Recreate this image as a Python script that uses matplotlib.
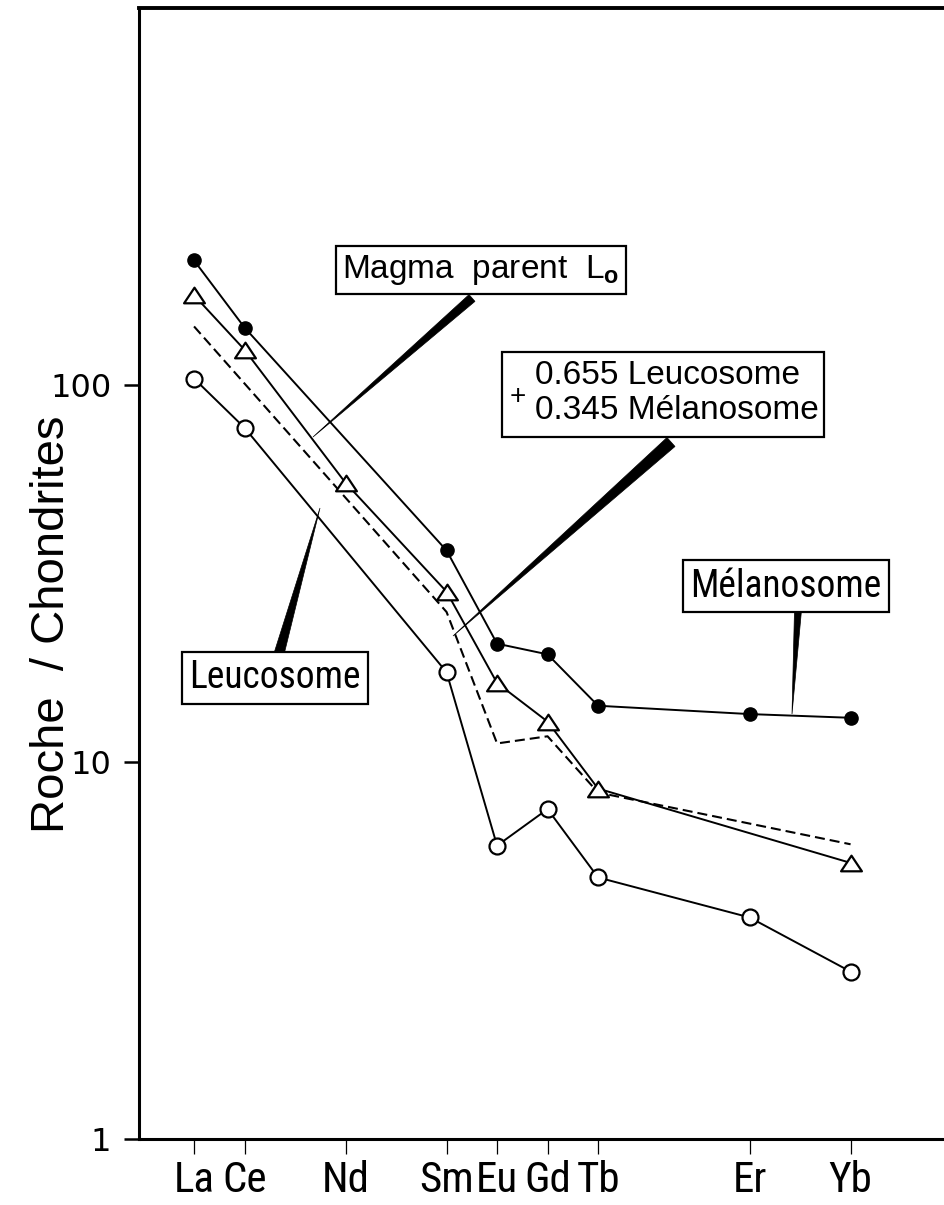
import matplotlib
matplotlib.use("Agg")
import matplotlib.pyplot as plt
from matplotlib import font_manager
from matplotlib.font_manager import FontProperties
from matplotlib.patches import Polygon, Rectangle
from matplotlib.path import Path
import numpy as np

# Terres rares normalisées aux chondrites
elements = ["La", "Ce", "Nd", "Sm", "Eu", "Gd", "Tb", "Er", "Yb"]
numero_atomique = {"La": 57, "Ce": 58, "Nd": 60, "Sm": 62, "Eu": 63,
                   "Gd": 64, "Tb": 65, "Er": 68, "Yb": 70}

melano_el = ["La", "Ce", "Sm", "Eu", "Gd", "Tb", "Er", "Yb"]
melanosome = [214, 142, 36.4, 20.6, 19.3, 14.1, 13.4, 13.1]

magma_el = ["La", "Ce", "Nd", "Sm", "Eu", "Gd", "Tb", "Yb"]
magma_parent = [173, 124, 55, 28.3, 16.2, 12.8, 8.5, 5.4]

leuco_el = ["La", "Ce", "Sm", "Eu", "Gd", "Tb", "Er", "Yb"]
leucosome = [104, 77, 17.3, 6.0, 7.5, 4.94, 3.87, 2.78]

melange_el = ["La", "Sm", "Eu", "Gd", "Tb", "Yb"]
melange = [143, 25, 11.2, 11.7, 8.3, 6.05]

NORMAL = ["Liberation Sans", "DejaVu Sans"]
plt.rcParams["font.family"] = NORMAL
plt.rcParams["mathtext.fontset"] = "custom"
plt.rcParams["mathtext.rm"] = "Liberation Sans"
plt.rcParams["mathtext.bf"] = "Liberation Sans:bold"


# police étroite : on prend ce qui est installé
def police_etroite():
    prefs = ["Liberation Sans Narrow", "Roboto Condensed", "DejaVu Sans",
             "Open Sans", "Noto Sans", "Roboto", "Lato", "Inter"]
    rang_stretch = {"condensed": 0, "semi-condensed": 1, "extra-condensed": 2,
                    "ultra-condensed": 3}
    choix = None
    for f in font_manager.fontManager.ttflist:
        nom = f.name + " " + f.fname
        etroit = f.stretch in rang_stretch or "Narrow" in nom or "Condensed" in nom
        if not etroit or f.style != "normal" or "Mono" in nom:
            continue
        w = f.weight if isinstance(f.weight, int) else font_manager.weight_dict.get(f.weight, 400)
        if w != 400:
            continue
        p = prefs.index(f.name) if f.name in prefs else len(prefs)
        cle = (rang_stretch.get(f.stretch, 1), p)
        if choix is None or cle < choix[0]:
            choix = (cle, f.fname)
    return choix[1] if choix else None


fichier = police_etroite()


def fp(size):
    if fichier:
        return FontProperties(fname=fichier, size=size)
    return FontProperties(family="Liberation Sans", size=size * 0.85)


W, H = 944, 1205
fig = plt.figure(figsize=(W / 100, H / 100), dpi=100)
ax = fig.add_axes([139 / W, 66 / H, (W - 139) / W, (1139 - 8) / H])


def xs(els):
    return [numero_atomique[e] for e in els]


lw = 1.4
ax.plot(xs(melano_el), melanosome, "-", color="k", lw=lw, marker="o",
        ms=9.5, mfc="k", mec="k", zorder=3)
tri = Path([(-1, -0.75), (1, -0.75), (0, 0.75), (-1, -0.75)],
           [Path.MOVETO, Path.LINETO, Path.LINETO, Path.CLOSEPOLY])
ax.plot(xs(magma_el), magma_parent, "-", color="k", lw=lw, marker=tri,
        ms=15, mfc="white", mec="k", mew=1.6, zorder=4)
ax.plot(xs(leuco_el), leucosome, "-", color="k", lw=lw, marker="o",
        ms=11.5, mfc="white", mec="k", mew=1.6, zorder=4)
ax.plot(xs(melange_el), melange, color="k", lw=1.5,
        linestyle=(0, (4.8, 2.4)), zorder=2)

ax.set_yscale("log")
ax.set_ylim(1, 1000)
ax.set_xlim(55.91, 71.85)

ax.set_yticks([1, 10, 100])
ax.set_yticklabels(["1", "10", "100"])
ax.yaxis.set_minor_locator(matplotlib.ticker.NullLocator())
ax.set_xticks(xs(elements))
ax.set_xticklabels(elements)
for t in ax.get_xticklabels():
    t.set_fontproperties(fp(31))
for t in ax.get_yticklabels():
    t.set_fontfamily("DejaVu Sans")
    t.set_fontsize(23)
ax.tick_params(axis="x", direction="out", length=11, width=0.9, pad=4)
ax.tick_params(axis="y", direction="out", length=11, width=1.8, pad=9)

ax.spines["right"].set_visible(False)
for s in ["left", "bottom"]:
    ax.spines[s].set_linewidth(2.2)
ax.spines["top"].set_linewidth(2.8)

ax.set_ylabel("Roche  / Chondrites", fontsize=34)
ax.yaxis.set_label_coords(-0.081, 0.4553)


# annotations en pixels de l'image
def P(x, y):
    return (x / 100, (H - y) / 100)


tr = fig.dpi_scale_trans


def boite(x, y, texte, prop):
    fig.text(x / W, 1 - y / H, texte, fontproperties=prop,
             ha="center", va="center", zorder=10,
             bbox=dict(boxstyle="square,pad=0.2", fc="white", ec="k", lw=1.6))


def coin(base, tip, largeur):
    bx, by = base
    tx, ty = tip
    d = np.array([tx - bx, ty - by], float)
    n = np.array([-d[1], d[0]]) / np.hypot(*d) * largeur / 2
    pts = [P(bx + n[0], by + n[1]), P(bx - n[0], by - n[1]), P(tx, ty)]
    fig.patches.append(Polygon(pts, closed=True, fc="k", ec="k", lw=0.5,
                               transform=tr, figure=fig, zorder=5))


coin((472, 298), (313, 437), 9)
coin((671, 442), (453, 636), 12)
coin((798, 610), (792, 714), 7)
coin((279, 654), (320, 508), 10)

boite(481, 270, "Magma  parent  L$_\\mathbf{o}$",
      FontProperties(family="Liberation Sans", size=24))
boite(786, 586, "Mélanosome", fp(27))
boite(275, 678, "Leucosome", fp(27))

fig.patches.append(Rectangle(P(502, 437), 322 / 100, 85 / 100, fc="white",
                             ec="k", lw=1.6, transform=tr, figure=fig, zorder=9))
fig.text(535 / W, 1 - 393 / H, "0.655 Leucosome\n0.345 Mélanosome",
         fontsize=24, family=NORMAL, ha="left", va="center",
         linespacing=1.2, zorder=11)
fig.text(518 / W, 1 - 397 / H, "+", fontsize=20, family=NORMAL,
         ha="center", va="center", zorder=11)

fig.savefig("out.png", dpi=100)
